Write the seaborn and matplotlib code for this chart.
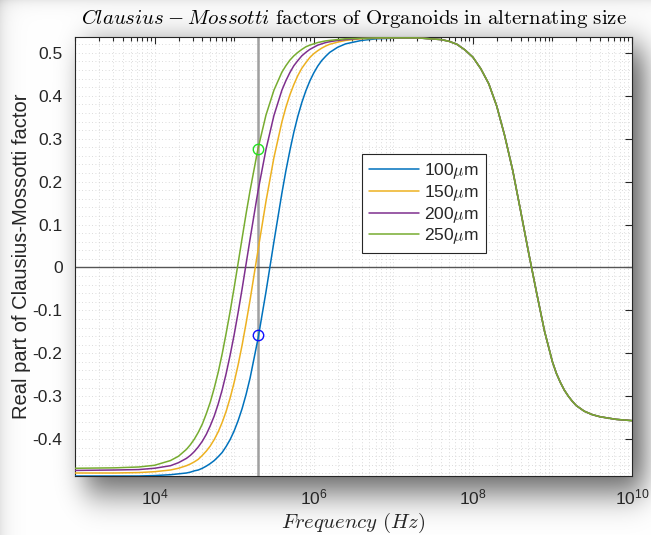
import math
import numpy as np
import pandas as pd
import matplotlib
matplotlib.use("Agg")
import matplotlib.pyplot as plt
import matplotlib.ticker as mticker
from matplotlib.font_manager import FontProperties
import seaborn as sns

# ---------------- data ----------------
# log10 of frequency (Hz) for the size-dependent low-frequency part
log_freq_low = [3.0, 3.5, 3.8, 4.0, 4.2, 4.3, 4.4, 4.45, 4.5, 4.55, 4.6, 4.65, 4.7, 4.75,
                4.8, 4.85, 4.9, 4.95, 5.0, 5.05, 5.1, 5.15, 5.2, 5.3, 5.4, 5.5, 5.6, 5.65,
                5.7, 5.75, 5.8, 5.85, 5.9, 5.95, 6.0, 6.05, 6.1, 6.15, 6.2, 6.3, 6.4, 6.6,
                6.8, 7.0]
cm_100um = [-0.486, -0.486, -0.486, -0.485, -0.483, -0.481, -0.479, -0.477, -0.474, -0.472,
            -0.468, -0.463, -0.457, -0.450, -0.441, -0.431, -0.417, -0.401, -0.381, -0.357,
            -0.329, -0.296, -0.258, -0.166, -0.057, 0.060, 0.173, 0.225, 0.272, 0.315,
            0.352, 0.384, 0.411, 0.434, 0.453, 0.469, 0.482, 0.492, 0.501, 0.513, 0.521,
            0.529, 0.533, 0.534]
cm_150um = [-0.479, -0.479, -0.478, -0.476, -0.472, -0.468, -0.462, -0.458, -0.453, -0.447,
            -0.438, -0.428, -0.416, -0.401, -0.383, -0.361, -0.335, -0.304, -0.268, -0.227,
            -0.181, -0.130, -0.076, 0.040, 0.154, 0.256, 0.339, 0.373, 0.402, 0.426,
            0.447, 0.464, 0.477, 0.489, 0.498, 0.505, 0.511, 0.516, 0.520, 0.525, 0.529,
            0.533, 0.534, 0.535]
cm_200um = [-0.473, -0.472, -0.471, -0.468, -0.462, -0.455, -0.445, -0.438, -0.429, -0.418,
            -0.405, -0.389, -0.369, -0.346, -0.318, -0.285, -0.247, -0.204, -0.157, -0.105,
            -0.050, 0.008, 0.066, 0.178, 0.275, 0.354, 0.413, 0.435, 0.454, 0.470,
            0.482, 0.493, 0.501, 0.508, 0.513, 0.518, 0.521, 0.524, 0.526, 0.529, 0.531,
            0.534, 0.535, 0.535]
cm_250um = [-0.468, -0.467, -0.465, -0.461, -0.450, -0.440, -0.424, -0.413, -0.400, -0.384,
            -0.365, -0.341, -0.314, -0.281, -0.244, -0.201, -0.153, -0.102, -0.047, 0.010,
            0.068, 0.125, 0.179, 0.277, 0.355, 0.413, 0.455, 0.470, 0.483, 0.493,
            0.501, 0.508, 0.514, 0.518, 0.521, 0.524, 0.526, 0.528, 0.529, 0.531, 0.533,
            0.534, 0.535, 0.535]
# high-frequency part, identical for all sizes
log_freq_high = [7.3, 7.6, 7.7, 7.8, 7.9, 8.0, 8.1, 8.2, 8.3, 8.4, 8.5, 8.6, 8.7, 8.8,
                 8.9, 9.0, 9.05, 9.1, 9.15, 9.2, 9.25, 9.3, 9.4, 9.5, 9.6, 9.8, 10.0]
cm_high = [0.535, 0.531, 0.527, 0.520, 0.507, 0.490, 0.463, 0.428, 0.376, 0.307, 0.227,
           0.132, 0.035, -0.058, -0.148, -0.220, -0.247, -0.268, -0.286, -0.300, -0.312,
           -0.322, -0.335, -0.343, -0.348, -0.354, -0.357]

size_labels = [r"100$\mu$m", r"150$\mu$m", r"200$\mu$m", r"250$\mu$m"]
series_low = [cm_100um, cm_150um, cm_200um, cm_250um]
line_colors = ["#0072BD", "#EDB120", "#7E2F8E", "#77AC30"]

marker_freq = [2e5, 2e5]
marker_vals = [0.277, -0.158]
marker_colors = ["#22e022", "#1010ff"]
vline_freq = 2e5

y_ticks = [-0.4, -0.3, -0.2, -0.1, 0.0, 0.1, 0.2, 0.3, 0.4, 0.5]
x_major = [1e4, 1e6, 1e8, 1e10]
x_labels = [r"$\mathregular{10^{4}}$", r"$\mathregular{10^{6}}$",
            r"$\mathregular{10^{8}}$", r"$\mathregular{10^{10}}$"]

rows = []
for lab, vals in zip(size_labels, series_low):
    for lf, v in zip(log_freq_low + log_freq_high, vals + cm_high):
        rows.append({"freq": 10 ** lf, "cm": v, "size": lab})
df = pd.DataFrame(rows)

# ---------------- style ----------------
sns.set_theme(style="white")
plt.rcParams["font.family"] = ["Liberation Sans", "DejaVu Sans"]
plt.rcParams["mathtext.fontset"] = "custom"
plt.rcParams["mathtext.rm"] = "Liberation Sans"
plt.rcParams["mathtext.it"] = "Liberation Sans:italic"
plt.rcParams["axes.unicode_minus"] = False

W, H = 651, 535
fig = plt.figure(figsize=(W / 100, H / 100), dpi=100)
fig.patch.set_facecolor("white")

# soft drop shadow behind the axes box (decoration)
ax_l, ax_r, ax_t, ax_b = 75, 632, 37, 476
def blur_profile(n, a, b, s):
    idx = np.arange(n) + 0.5
    return np.array([0.5 * (math.erf((i - a) / (s * 1.4142)) - math.erf((i - b) / (s * 1.4142)))
                     for i in idx])
px = blur_profile(W, ax_l + 10, ax_r + 12, 13)
py = blur_profile(H, ax_t + 10, ax_b + 16, 17)
dark = 0.62 * py[:, None] * px[None, :]
xx = np.arange(W)[None, :]
yy = np.arange(H)[:, None]
dark = dark + 0.10 * np.exp(-xx / 8.0) + 0.08 * np.exp(-yy / 6.0)
dark = np.clip(dark, 0, 0.8)
bg = np.ones((H, W, 3)) * (1 - dark)[:, :, None]
fig.figimage(bg, xo=0, yo=0, origin="upper", zorder=-10)

ax = fig.add_axes([ax_l / W, 1 - ax_b / H, (ax_r - ax_l) / W, (ax_b - ax_t) / H])
ax.set_facecolor("white")

sns.lineplot(data=df, x="freq", y="cm", hue="size", hue_order=size_labels,
             palette=line_colors, linewidth=1.1, ax=ax, sort=False, estimator=None,
             zorder=3)

ax.set_xscale("log")
ax.set_xlim(1e3, 1e10)
ax.set_ylim(-0.486, 0.537)

# reference lines and markers
ax.axvline(vline_freq, color="#a0a0a0", lw=1.8, zorder=2)
ax.axhline(0, color="#555555", lw=1.0, zorder=2)
for f, v, c in zip(marker_freq, marker_vals, marker_colors):
    ax.plot([f], [v], marker="o", ms=7.5, mfc="none", mec=c, mew=1.0, zorder=5)

# ticks
ax.xaxis.set_major_locator(mticker.FixedLocator(x_major))
ax.xaxis.set_major_formatter(mticker.FixedFormatter(x_labels))
ax.xaxis.set_minor_locator(mticker.LogLocator(base=10, subs=np.arange(1, 10), numticks=100))
ax.xaxis.set_minor_formatter(mticker.NullFormatter())
ax.yaxis.set_major_locator(mticker.FixedLocator(y_ticks))
ax.yaxis.set_major_formatter(mticker.FuncFormatter(lambda v, p: "0" if abs(v) < 1e-9 else f"{v:.1f}"))
ax.yaxis.set_minor_locator(mticker.MultipleLocator(0.02))
ax.tick_params(which="both", direction="in", top=True, right=True, colors="#262626",
               labelcolor="#262626", labelsize=12.5, width=0.8)
ax.tick_params(axis="x", which="major", length=5, pad=8)
ax.tick_params(axis="x", which="minor", length=3)
ax.tick_params(axis="y", which="major", length=5, pad=9)
ax.tick_params(axis="y", which="minor", length=0)

ax.grid(True, which="both", color="#d0d0d0", lw=0.6, ls=(0, (1, 3)), zorder=0)
for sp in ax.spines.values():
    sp.set_color("#262626")
    sp.set_linewidth(0.8)
    sp.set_visible(True)

# labels
ax.set_ylabel("Real part of Clausius-Mossotti factor", fontsize=14.5, color="#262626", labelpad=1)
ax.set_xlabel(r"$Frequency\ (Hz)$", fontsize=15, color="#262626", labelpad=3,
              math_fontfamily="cm")
ax.set_title(r"$Clausius - Mossotti\ \mathrm{factors\ of\ Organoids\ in\ alternating\ size}$",
             fontsize=15, color="black", pad=9, math_fontfamily="cm")

# legend
leg = ax.get_legend()
handles = leg.legend_handles
labels = [t.get_text() for t in leg.get_texts()]
leg.remove()
for h in handles:
    h.set_linewidth(1.1)
prop = FontProperties(family="Liberation Sans", size=12.5, math_fontfamily="cm")
lg = ax.legend(handles, labels, loc="upper left", bbox_to_anchor=(0.515, 0.733),
               prop=prop, frameon=True, fancybox=False, framealpha=1, edgecolor="#262626",
               handlelength=2.9, handletextpad=0.3, labelspacing=0.1, borderpad=0.4,
               borderaxespad=0)
lg.get_frame().set_linewidth(0.8)
lg.set_zorder(10)

fig.savefig("out.png", dpi=100)
